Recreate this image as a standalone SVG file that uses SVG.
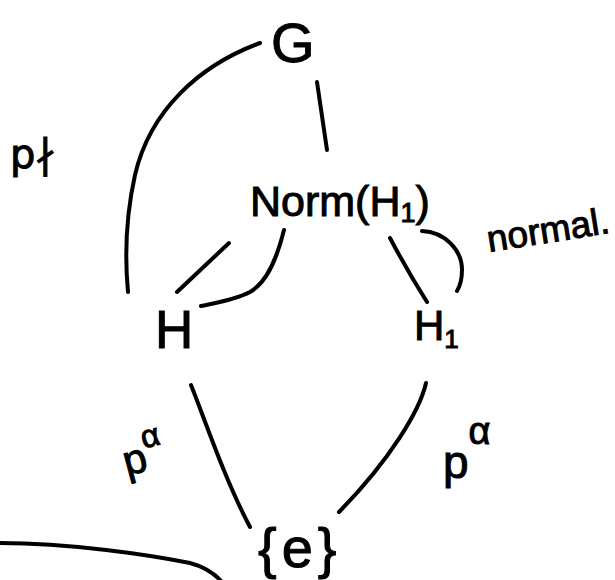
<svg xmlns="http://www.w3.org/2000/svg" width="615" height="580" viewBox="0 0 615 580">
<style>
.ln{fill:none;stroke:#000;stroke-width:4;stroke-linecap:round;stroke-linejoin:round}
.t{font-family:"Liberation Sans","DejaVu Sans",sans-serif;fill:#000;stroke:#000;stroke-width:1}
.s{font-family:"DejaVu Sans","Liberation Sans",sans-serif;fill:#000;stroke:#000;stroke-width:1}
</style>
<rect width="615" height="580" fill="#fff"/>
<g id="connectors">
<path class="ln" d="M260,43 C200,65 150,110 135,175 C125,220 125,260 128,292"/>
<path class="ln" d="M317,82 L327,150"/>
<path class="ln" d="M229,243 L177,292"/>
<path class="ln" d="M284,230 C276,262 266,283 250,292 C235,300 215,303 201,306"/>
<path class="ln" d="M390,238 Q408,272 427,302"/>
<path class="ln" d="M422,231 C445,232 462,250 462,270 C462,280 460,286 457,291"/>
<path class="ln" d="M191,385 C205,420 225,480 250,527"/>
<path class="ln" d="M426,383 C420,410 390,460 339,512"/>
<path class="ln" d="M0,543 C70,543 150,555 190,563 C205,567 215,574 222,582"/>
</g>
<g id="node-G"><text class="t" x="271" y="62" font-size="56">G</text></g>
<g id="node-Norm"><text class="t" x="250" y="216" font-size="43">Norm(H<tspan font-size="27" dy="6">1</tspan><tspan dy="-6">)</tspan></text></g>
<g id="node-H"><text class="t" x="155" y="348" font-size="53">H</text></g>
<g id="node-H1"><text class="t" x="414" y="340" font-size="42">H<tspan font-size="26" dy="8">1</tspan></text></g>
<g id="node-e"><text class="t" x="258" y="567" font-size="56" letter-spacing="5">{e}</text></g>
<g id="labels">
<text class="s" x="10" y="168" font-size="40">p∤</text>
<text class="t" transform="translate(127,476) rotate(-15)" font-size="42">p<tspan font-size="32" dy="-22">α</tspan></text>
<text class="t" x="443" y="478" font-size="46">p<tspan font-size="38" dy="-34">α</tspan></text>
<text class="t" transform="translate(489,252) rotate(-9)" font-size="37">normal.</text>
</g>
</svg>
